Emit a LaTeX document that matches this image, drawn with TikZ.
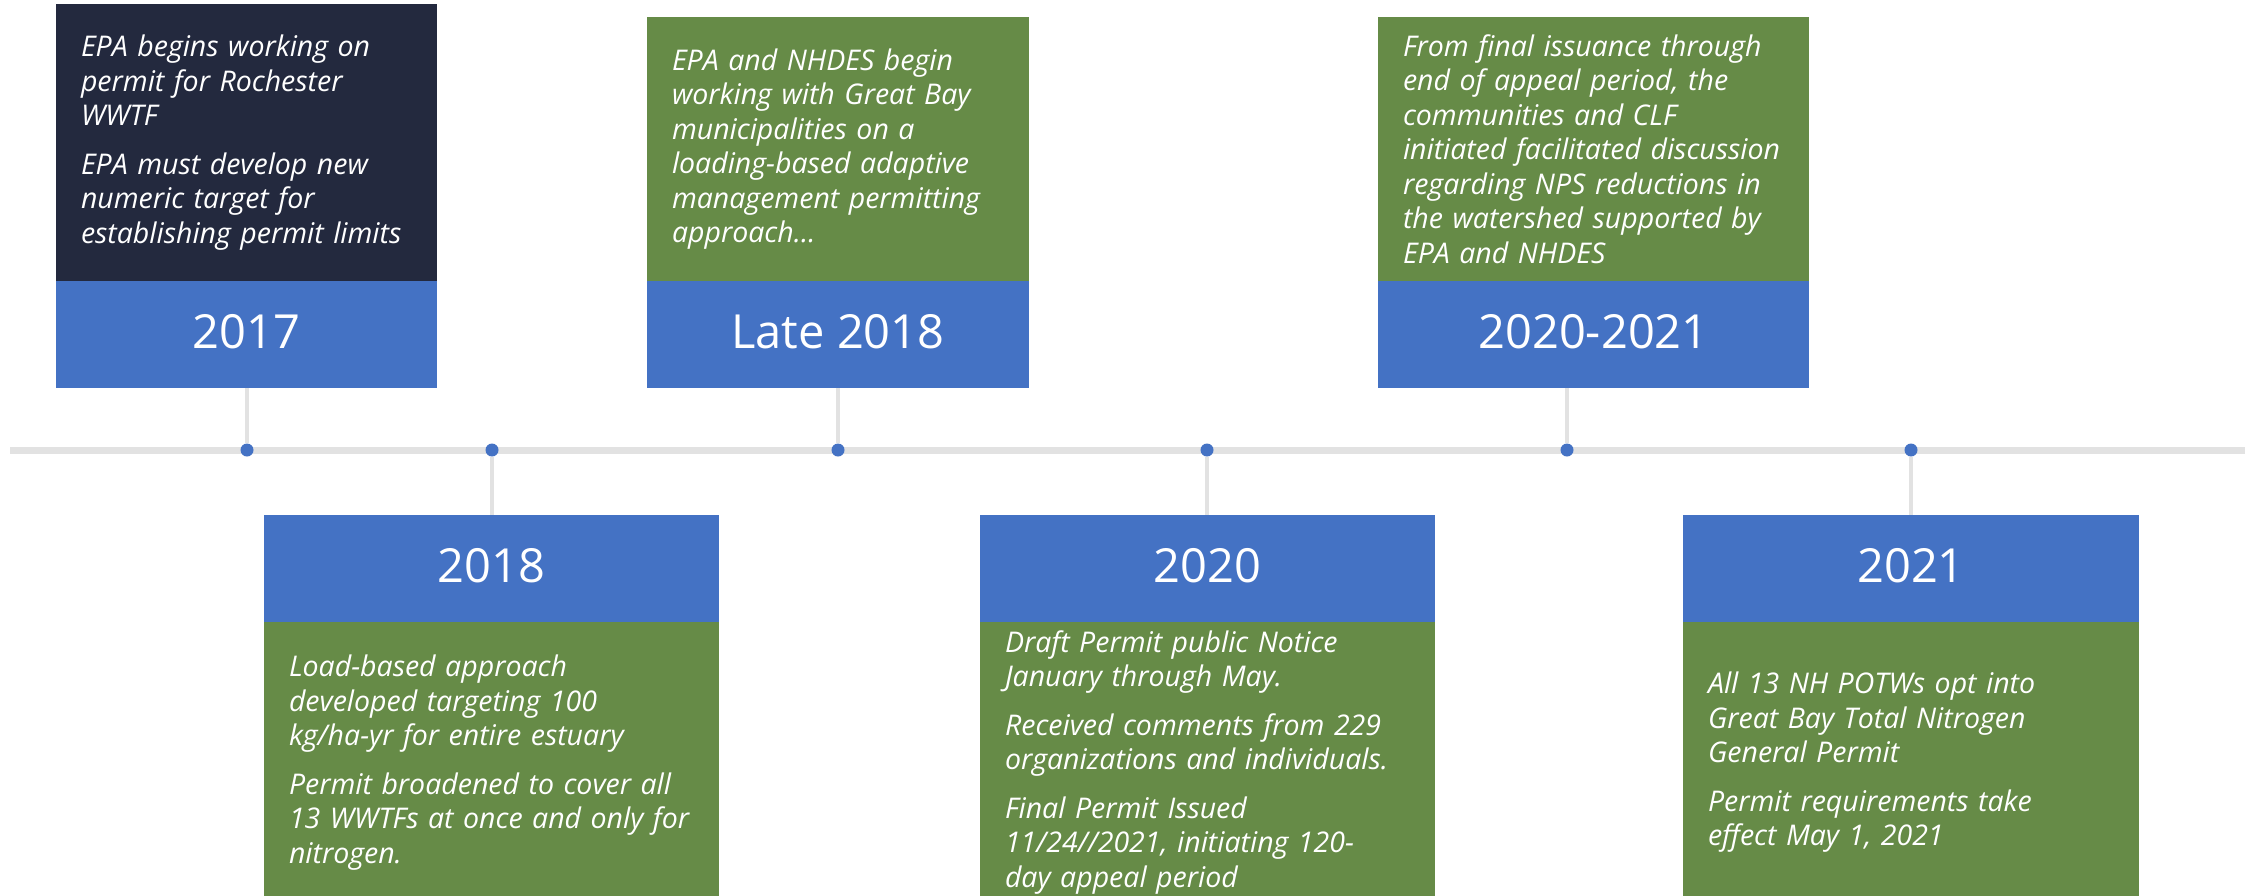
\documentclass[tikz,border=0pt]{standalone}
\usepackage{fontspec}
\setmainfont{Open Sans}
\usepackage{xcolor}
\usetikzlibrary{positioning}

\definecolor{navy}{RGB}{35,41,62}
\definecolor{yearblue}{RGB}{68,114,196}
\definecolor{notegreen}{RGB}{102,139,71}
\definecolor{railgray}{RGB}{226,226,226}

\begin{document}
\begin{tikzpicture}[x=1pt,y=-1pt,
                    year node/.style={rectangle,fill=yearblue,text=white,inner sep=0pt,outer sep=0pt,minimum height=107pt,text depth=6pt,font=\fontsize{47}{50}\selectfont},
                    note node/.style={rectangle,fill=notegreen,text=white,inner xsep=25pt,inner ysep=0pt,outer sep=0pt,align=left,font=\fontsize{28.5}{34.5}\selectfont\itshape},
                    dot node/.style={circle,fill=yearblue,inner sep=0pt,minimum size=13pt},
                    stem/.style={draw=railgray,line width=3.5pt},
                    rail/.style={draw=railgray,line width=7pt}]

 \useasboundingbox (0,0) rectangle (2254,895);

 \coordinate (start) at (10,450);
 \coordinate (end) at (2245,450);
 \draw[rail] (start) -- (end);

 \node[dot node] (dot1) at (247,450) {};
 \node[dot node] (dot2) at (492,450) {};
 \node[dot node] (dot3) at (838,450) {};
 \node[dot node] (dot4) at (1207,450) {};
 \node[dot node] (dot5) at (1567,450) {};
 \node[dot node] (dot6) at (1911,450) {};

 % upper row
 \node[year node,minimum width=381pt] (1) at (246.5,334.5) {2017};
 \node[note node,fill=navy,text width=331pt,minimum height=277pt,above=0pt of 1] (note1)
   {EPA begins working on\\permit for Rochester\\WWTF\\[14pt]EPA must develop new\\numeric target for\\establishing permit limits};

 \node[year node,minimum width=382pt] (3) at (838,334.5) {Late 2018};
 \node[note node,text width=332pt,minimum height=264pt,above=0pt of 3] (note3)
   {EPA and NHDES begin\\working with Great Bay\\municipalities on a\\loading-based adaptive\\management permitting\\approach…};

 \node[year node,minimum width=431pt] (5) at (1593.5,334.5) {2020-2021};
 \node[note node,text width=381pt,minimum height=264pt,above=0pt of 5] (note5)
   {From final issuance through\\end of appeal period, the\\communities and CLF\\initiated facilitated discussion\\regarding NPS reductions in\\the watershed supported by\\EPA and NHDES};

 % lower row
 \node[year node,minimum width=455pt] (2) at (491.5,568) {2018};
 \node[note node,text width=405pt,minimum height=282pt,below=0pt of 2] (note2)
   {Load-based approach\\developed targeting 100\\kg/ha-yr for entire estuary\\[14pt]Permit broadened to cover all\\13 WWTFs at once and only for\\nitrogen.};

 \node[year node,minimum width=455pt] (4) at (1207.5,568) {2020};
 \node[note node,text width=405pt,minimum height=282pt,below=0pt of 4] (note4)
   {Draft Permit public Notice\\January through May.\\[14pt]Received comments from 229\\organizations and individuals.\\[14pt]Final Permit Issued\\11/24//2021, initiating 120-\\day appeal period};

 \node[year node,minimum width=456pt] (6) at (1911,568) {2021};
 \node[note node,text width=406pt,minimum height=282pt,below=0pt of 6] (note6)
   {All 13 NH POTWs opt into\\Great Bay Total Nitrogen\\General Permit\\[14pt]Permit requirements take\\effect May 1, 2021};

 \draw[stem] (dot1) -- (dot1 |- 1.south);
 \draw[stem] (dot3) -- (dot3 |- 3.south);
 \draw[stem] (dot5) -- (dot5 |- 5.south);
 \draw[stem] (dot2) -- (dot2 |- 2.north);
 \draw[stem] (dot4) -- (dot4 |- 4.north);
 \draw[stem] (dot6) -- (dot6 |- 6.north);

\end{tikzpicture}
\end{document}
